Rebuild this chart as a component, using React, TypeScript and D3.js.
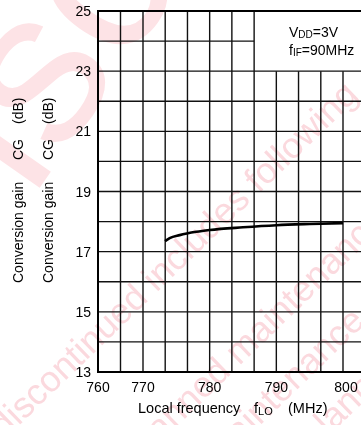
import React, { useEffect, useRef } from 'react';
import * as d3 from 'd3';

// conversion gain vs local frequency
const freqMHz = [773.3, 774, 775.5, 778, 780, 785, 790, 795, 800];
const gainDb = [17.35, 17.45, 17.55, 17.66, 17.72, 17.81, 17.88, 17.92, 17.95];

const xTicks = [760, 770, 780, 790, 800];
const yTicks = [13, 15, 17, 19, 21, 23, 25];
const xGrid = [760, 765, 770, 773.33, 776.67, 780, 783.33, 786.67, 790, 793.33, 796.67, 800, 803.33];
const yGrid = [14, 15, 16, 17, 18, 19, 20, 21, 22, 23, 24];

const watermarkLines = [
  'discontinued includes following',
  'planned maintenance',
  'maintenance',
  'planned discontinued',
];

const FONT = '"Liberation Sans", Arial, Helvetica, sans-serif';

function GainChart() {
  const svgRef = useRef(null);

  useEffect(() => {
    if (!svgRef.current) return;
    const svg = d3.select(svgRef.current);
    svg.selectAll('*').remove();

    // the printed axis is uneven: 760 sits only two grid cells left of 770
    const x = d3.scaleLinear().domain([760, 770, 800]).range([98, 143, 343]);
    const y = d3.scaleLinear().domain([13, 25]).range([372, 11]);

    const boxLeft = x(786.67);
    const boxBottom = y(23);

    const grid = svg.append('g').attr('stroke', '#111').attr('stroke-width', 1.4);

    // horizontal grid, the lines inside the condition box are left out
    grid.selectAll('line.h')
      .data(yGrid)
      .join('line')
      .attr('x1', x(760))
      .attr('x2', d => (d > 23 ? boxLeft : 361))
      .attr('y1', d => y(d))
      .attr('y2', d => y(d));

    grid.selectAll('line.v')
      .data(xGrid.slice(1))
      .join('line')
      .attr('x1', d => x(d))
      .attr('x2', d => x(d))
      .attr('y1', d => (d > 786.7 ? boxBottom : y(25)))
      .attr('y2', y(13));

    // frame
    const frame = svg.append('g').attr('stroke', '#000').attr('stroke-width', 2);
    frame.append('line').attr('x1', x(760)).attr('x2', x(760)).attr('y1', y(25) - 1).attr('y2', y(13) + 1);
    frame.append('line').attr('x1', x(760)).attr('x2', 361).attr('y1', y(13)).attr('y2', y(13));
    frame.append('line').attr('x1', x(760)).attr('x2', 361).attr('y1', y(25)).attr('y2', y(25));

    // curve
    const line = d3.line()
      .x((d, i) => x(freqMHz[i]))
      .y(d => y(d))
      .curve(d3.curveMonotoneX);

    svg.append('path')
      .datum(gainDb)
      .attr('fill', 'none')
      .attr('stroke', '#000')
      .attr('stroke-width', 2.6)
      .attr('d', line);

    const text = svg.append('g').attr('font-family', FONT).attr('font-size', 14).attr('fill', '#000');

    text.selectAll('text.yt')
      .data(yTicks)
      .join('text')
      .attr('x', 91)
      .attr('y', d => y(d))
      .attr('dy', '0.36em')
      .attr('text-anchor', 'end')
      .text(d => d);

    text.selectAll('text.xt')
      .data(xTicks)
      .join('text')
      .attr('x', d => x(d) + (d === 800 ? 3 : 0))
      .attr('y', 392)
      .attr('text-anchor', 'middle')
      .text(d => d);

    // x axis title
    const xt = text.append('text').attr('y', 413).attr('font-size', 14.5);
    xt.append('tspan').attr('x', 138).text('Local frequency');
    xt.append('tspan').attr('x', 254).text('f');
    xt.append('tspan').attr('font-size', 11).attr('dy', 2).text('LO');
    xt.append('tspan').attr('x', 288).attr('dy', -2).text('(MHz)');

    // y axis title, printed twice in the scan
    [23, 53].forEach(bx => {
      const yt = text.append('text').attr('transform', `translate(${bx},283) rotate(-90)`);
      yt.append('tspan').attr('x', 0).text('Conversion gain');
      yt.append('tspan').attr('x', 123).text('CG');
      yt.append('tspan').attr('x', 159).text('(dB)');
    });

    // condition box
    const c1 = text.append('text').attr('x', 289).attr('y', 37);
    c1.append('tspan').text('V');
    c1.append('tspan').attr('font-size', 10).attr('dy', 1).text('DD');
    c1.append('tspan').attr('dy', -1).text('=3V');
    const c2 = text.append('text').attr('x', 289).attr('y', 55);
    c2.append('tspan').text('f');
    c2.append('tspan').attr('font-size', 10).attr('dy', 1).text('IF');
    c2.append('tspan').attr('dy', -1).text('=90MHz');

    // pink watermark, multiplied over the chart
    const wm = svg.append('g')
      .attr('font-family', FONT)
      .attr('fill', '#fbd9de')
      .style('mix-blend-mode', 'multiply');

    wm.append('text')
      .attr('transform', 'translate(-60,330) rotate(-55)')
      .attr('font-size', 220)
      .attr('fill', '#fde3e6')
      .text('Disco');

    const starts = [[4, 440], [140, 462], [218, 466], [314, 450]];
    wm.selectAll('text.w')
      .data(watermarkLines)
      .join('text')
      .attr('transform', (d, i) => `translate(${starts[i][0]},${starts[i][1]}) rotate(-44)`)
      .attr('font-size', 36)
      .text(d => d);
  }, []);

  return (
    <svg
      ref={svgRef}
      width={361}
      height={425}
      style={{ position: 'absolute', left: 0, top: 0, background: '#fff' }}
    />
  );
}

export default function App() {
  return <GainChart />;
}
